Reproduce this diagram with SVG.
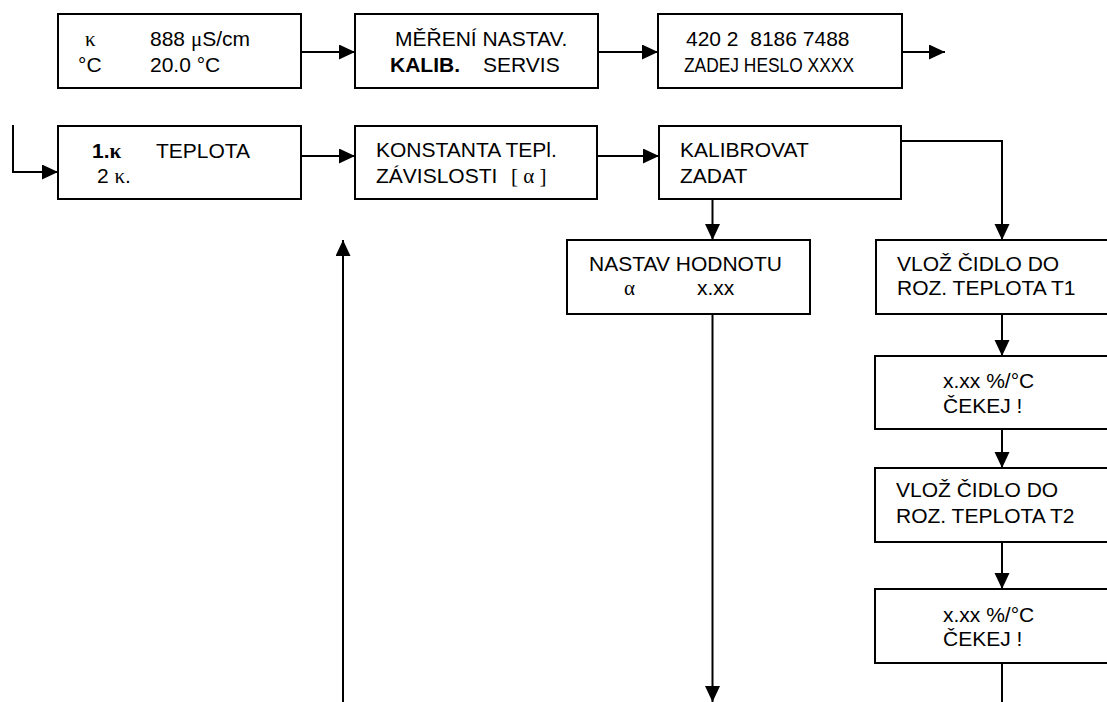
<svg xmlns="http://www.w3.org/2000/svg" width="1107" height="702" viewBox="0 0 1107 702">
<defs>
<style>
.box{fill:#fff;stroke:#000;stroke-width:2}
.ln{fill:none;stroke:#000;stroke-width:2}
text{font-family:"Liberation Sans",Arial,sans-serif;font-size:21px;fill:#000;white-space:pre}
.g{font-family:"Liberation Serif","Times New Roman",serif}
.b{font-weight:bold}
</style>
<marker id="ah" markerUnits="userSpaceOnUse" markerWidth="17" markerHeight="16" refX="16" refY="7.5" orient="auto">
<path d="M0,0 L16,7.5 L0,15 z" fill="#000"/>
</marker>
</defs>
<rect width="1107" height="702" fill="#fff"/>
<g id="connectors">
<line class="ln" x1="301" y1="52" x2="355" y2="52" marker-end="url(#ah)"/>
<line class="ln" x1="598" y1="52" x2="658" y2="52" marker-end="url(#ah)"/>
<line class="ln" x1="902" y1="52" x2="945" y2="52" marker-end="url(#ah)"/>
<polyline class="ln" points="13,125 13,172 58,172" marker-end="url(#ah)"/>
<line class="ln" x1="301" y1="156" x2="355" y2="156" marker-end="url(#ah)"/>
<line class="ln" x1="597" y1="156" x2="659" y2="156" marker-end="url(#ah)"/>
<polyline class="ln" points="901,141 1002,141 1002,240" marker-end="url(#ah)"/>
<line class="ln" x1="712.5" y1="199" x2="712.5" y2="240" marker-end="url(#ah)"/>
<line class="ln" x1="712.5" y1="314" x2="712.5" y2="702" marker-end="url(#ah)"/>
<line class="ln" x1="343" y1="702" x2="343" y2="240" marker-end="url(#ah)"/>
<line class="ln" x1="1002" y1="314" x2="1002" y2="356" marker-end="url(#ah)"/>
<line class="ln" x1="1002" y1="429" x2="1002" y2="468" marker-end="url(#ah)"/>
<line class="ln" x1="1002" y1="542" x2="1002" y2="589" marker-end="url(#ah)"/>
<line class="ln" x1="1002" y1="663" x2="1002" y2="702"/>
</g>
<g id="n1">
<rect class="box" x="58" y="14" width="243" height="74"/>
<text class="g" x="85" y="45.5">κ</text>
<text x="150" y="45.5">888 <tspan class="g">μ</tspan>S/cm</text>
<text x="78" y="72">°C</text>
<text x="150" y="72">20.0 °C</text>
</g>
<g id="n2">
<rect class="box" x="355" y="14" width="243" height="74"/>
<text x="395" y="45.5">MĚŘENÍ NASTAV.</text>
<text class="b" x="390" y="72">KALIB.</text>
<text x="483" y="72">SERVIS</text>
</g>
<g id="n3">
<rect class="box" x="658" y="14" width="244" height="74"/>
<text x="686" y="45.5">420 2  8186 7488</text>
<text x="684" y="72" textLength="170" lengthAdjust="spacingAndGlyphs">ZADEJ HESLO XXXX</text>
</g>
<g id="n4">
<rect class="box" x="58" y="126" width="243" height="73"/>
<text class="b" x="92" y="158">1.<tspan class="g">κ</tspan></text>
<text x="156" y="158">TEPLOTA</text>
<text x="97" y="183">2 <tspan class="g">κ</tspan>.</text>
</g>
<g id="n5">
<rect class="box" x="355" y="126" width="242" height="73"/>
<text x="376" y="157">KONSTANTA TEPl.</text>
<text x="376" y="183">ZÁVISLOSTI</text>
<text class="g" x="511" y="183">[ α ]</text>
</g>
<g id="n6">
<rect class="box" x="659" y="126" width="242" height="73"/>
<text x="680" y="157">KALIBROVAT</text>
<text x="680" y="183">ZADAT</text>
</g>
<g id="n7">
<rect class="box" x="567" y="240" width="243" height="74"/>
<text x="589" y="271">NASTAV HODNOTU</text>
<text class="g" x="624" y="295">α</text>
<text x="697" y="295">x.xx</text>
</g>
<g id="n8">
<rect class="box" x="876" y="240" width="250" height="74"/>
<text x="897" y="271">VLOŽ ČIDLO DO</text>
<text x="897" y="295">ROZ. TEPLOTA T1</text>
</g>
<g id="n9">
<rect class="box" x="875" y="356" width="250" height="73"/>
<text x="943" y="388">x.xx %/°C</text>
<text x="943" y="413">ČEKEJ !</text>
</g>
<g id="n10">
<rect class="box" x="875" y="468" width="250" height="74"/>
<text x="896" y="497">VLOŽ ČIDLO DO</text>
<text x="896" y="523">ROZ. TEPLOTA T2</text>
</g>
<g id="n11">
<rect class="box" x="875" y="589" width="250" height="74"/>
<text x="943" y="622">x.xx %/°C</text>
<text x="943" y="646">ČEKEJ !</text>
</g>
</svg>
